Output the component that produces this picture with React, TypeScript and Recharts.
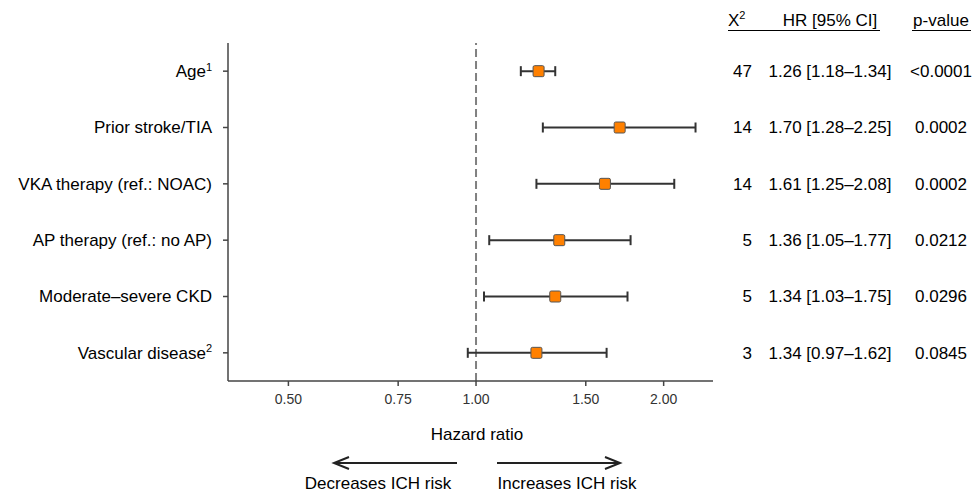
import React from 'react';
import { ScatterChart, Scatter, XAxis, YAxis, ErrorBar, ReferenceLine } from 'recharts';

// rows, top to bottom
const labels = [
  'Age',
  'Prior stroke/TIA',
  'VKA therapy (ref.: NOAC)',
  'AP therapy (ref.: no AP)',
  'Moderate\u2013severe CKD',
  'Vascular disease',
];
const labelSup = ['1', '', '', '', '', '2'];
const hr = [1.26, 1.7, 1.61, 1.36, 1.34, 1.25];
const ciLow = [1.18, 1.28, 1.25, 1.05, 1.03, 0.97];
const ciHigh = [1.34, 2.25, 2.08, 1.77, 1.75, 1.62];
const chi2 = ['47', '14', '14', '5', '5', '3'];
const hrText = [
  '1.26 [1.18\u20131.34]',
  '1.70 [1.28\u20132.25]',
  '1.61 [1.25\u20132.08]',
  '1.36 [1.05\u20131.77]',
  '1.34 [1.03\u20131.75]',
  '1.34 [0.97\u20131.62]',
];
const pValues = ['<0.0001', '0.0002', '0.0002', '0.0212', '0.0296', '0.0845'];
const xTicks = [0.5, 0.75, 1, 1.5, 2];

const rows = labels.map((_, i) => ({
  row: i,
  hr: hr[i],
  err: [hr[i] - ciLow[i], ciHigh[i] - hr[i]],
}));

const FONT = '"Liberation Sans", Arial, sans-serif';

const RowTick = (props: any) => {
  const { y, payload } = props;
  const i = payload.value;
  if (i < 0 || i >= labels.length) return null;
  return (
    <g fontFamily={FONT} fontSize={17} fill="#000">
      <text x={212} y={y} dy="0.35em" textAnchor="end">
        {labels[i]}
        {labelSup[i] ? (
          <tspan fontSize={11} dy="-0.6em">
            {labelSup[i]}
          </tspan>
        ) : null}
      </text>
      <text x={752} y={y} dy="0.35em" textAnchor="end">
        {chi2[i]}
      </text>
      <text x={830} y={y} dy="0.35em" textAnchor="middle">
        {hrText[i]}
      </text>
      <text x={941} y={y} dy="0.35em" textAnchor="middle">
        {pValues[i]}
      </text>
    </g>
  );
};

const Square = (props: any) => {
  const { cx, cy } = props;
  return (
    <rect x={cx - 5.5} y={cy - 5.5} width={11} height={11} rx={1.5}
      fill="#FF8000" stroke="#555" strokeWidth={1} />
  );
};

export default function App() {
  return (
    <div style={{ position: 'absolute', left: 0, top: 0, width: 973, height: 495, fontFamily: FONT, background: '#fff' }}>
      <ScatterChart width={973} height={495} margin={{ top: 43, right: 260, bottom: 84, left: 0 }}>
        <XAxis
          type="number"
          dataKey="hr"
          scale="log"
          domain={[0.4, 2.4]}
          allowDataOverflow
          ticks={xTicks}
          tickFormatter={(v: number) => v.toFixed(2)}
          tick={{ fontSize: 14, fill: '#333', fontFamily: FONT }}
          tickSize={5}
          tickMargin={8}
          height={30}
          stroke="#444"
          strokeWidth={1.5}
        />
        <YAxis
          type="number"
          dataKey="row"
          domain={[-0.5, 5.5]}
          reversed
          ticks={[0, 1, 2, 3, 4, 5]}
          tick={<RowTick />}
          tickSize={5}
          width={228}
          stroke="#444"
          strokeWidth={1.5}
        />
        <ReferenceLine x={1} stroke="#808080" strokeWidth={2} strokeDasharray="8 4" />
        <Scatter data={rows} shape={<Square />} isAnimationActive={false}>
          <ErrorBar dataKey="err" direction="x" width={5} stroke="#333" strokeWidth={2} />
        </Scatter>
      </ScatterChart>
      <svg width={973} height={495} style={{ position: 'absolute', left: 0, top: 0, pointerEvents: 'none' }}>
        <g fontFamily={FONT} fontSize={17} fill="#000">
          <text x={728} y={26}>
            X<tspan fontSize={11} dy="-0.6em">2</tspan>
          </text>
          <text x={830} y={26} textAnchor="middle">HR [95% CI]</text>
          <text x={941} y={26} textAnchor="middle">p-value</text>
          <text x={477} y={440} textAnchor="middle">Hazard ratio</text>
          <text x={378} y={489} textAnchor="middle">Decreases ICH risk</text>
          <text x={567} y={489} textAnchor="middle">Increases ICH risk</text>
        </g>
        <line x1={728} x2={880} y1={30.5} y2={30.5} stroke="#000" strokeWidth={1} />
        <line x1={912} x2={971} y1={30.5} y2={30.5} stroke="#000" strokeWidth={1} />
        <g stroke="#222" strokeWidth={2} fill="none">
          <line x1={334} x2={457} y1={463} y2={463} />
          <polyline points="349,457 334,463 349,469" />
          <line x1={497} x2={620} y1={463} y2={463} />
          <polyline points="605,457 620,463 605,469" />
        </g>
      </svg>
    </div>
  );
}
